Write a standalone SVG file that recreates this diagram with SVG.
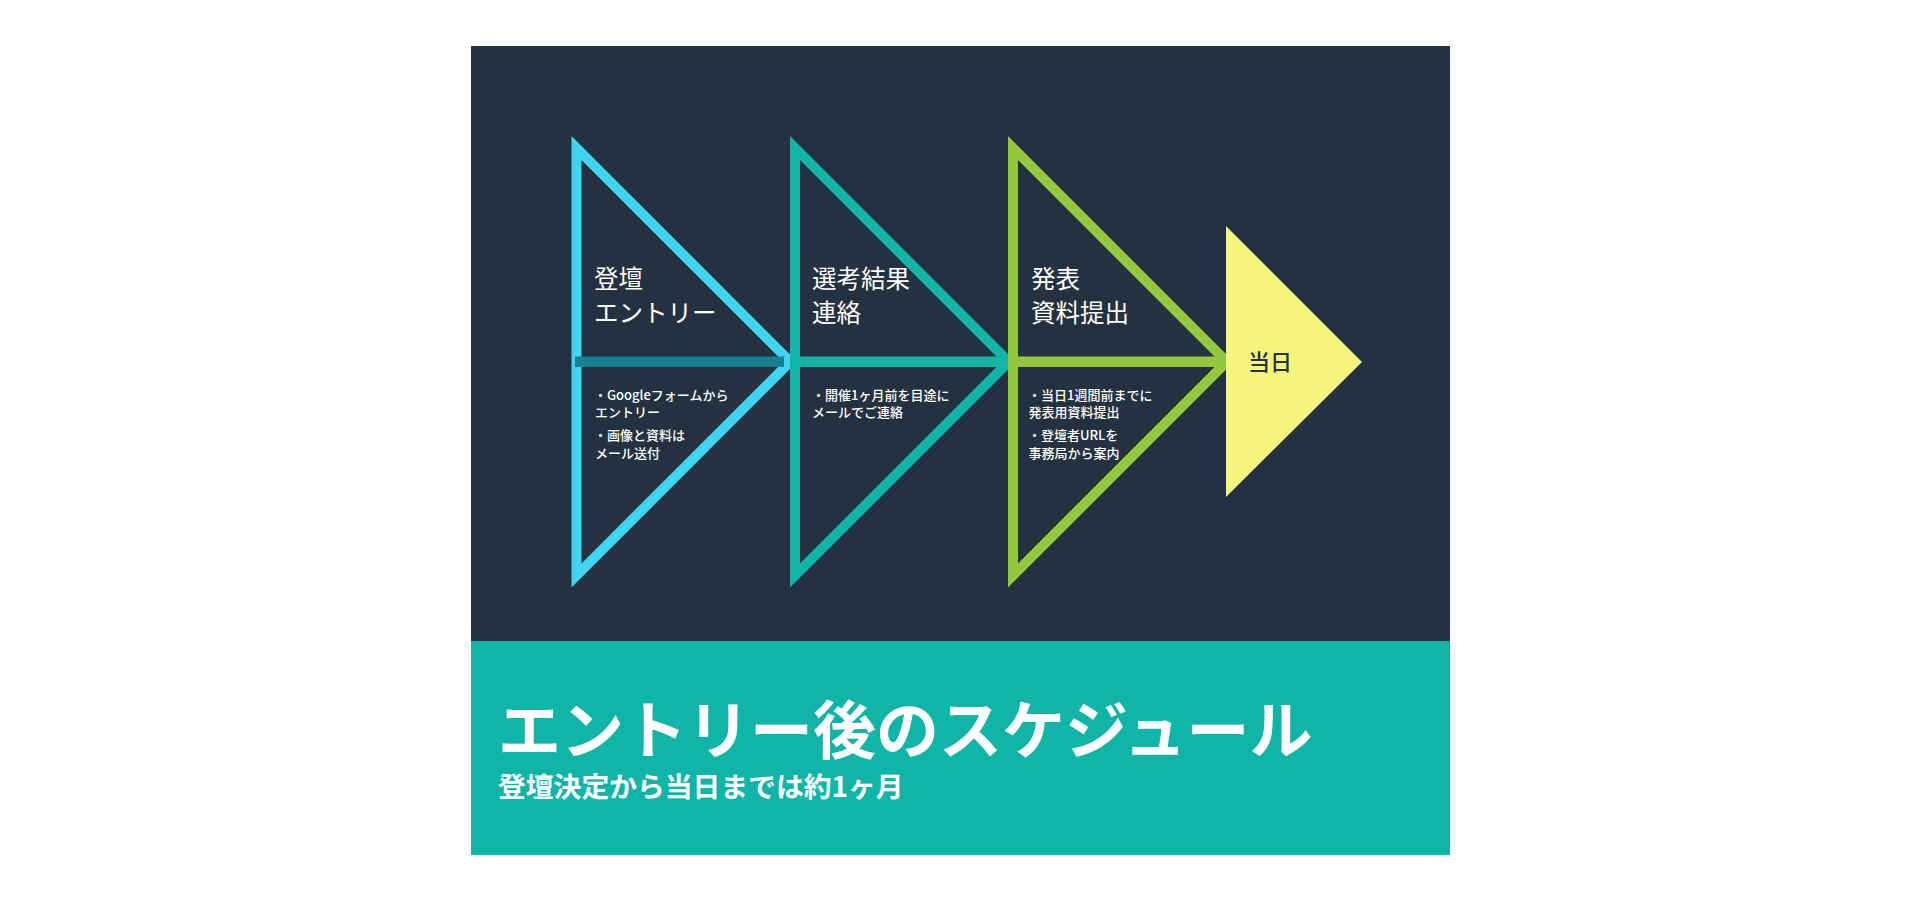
<svg xmlns="http://www.w3.org/2000/svg" width="1920" height="900" viewBox="0 0 1920 900">
<style>
.tri{fill:none;stroke-width:10;stroke-linejoin:miter}
.head{font-family:"Noto Sans CJK JP","Noto Sans",sans-serif;font-size:24.5px;fill:#ffffff;font-weight:400}
.bul{font-family:"Noto Sans CJK JP","Noto Sans",sans-serif;font-size:13px;fill:#ffffff;font-weight:500}
.title{font-family:"Noto Sans CJK JP","Noto Sans",sans-serif;font-size:63px;fill:#ffffff;font-weight:700}
.sub{font-family:"Noto Sans CJK JP","Noto Sans",sans-serif;font-size:27.8px;fill:#ffffff;font-weight:700}
.day{font-family:"Noto Sans CJK JP","Noto Sans",sans-serif;font-size:22px;fill:#243140;font-weight:500}
</style>
<rect width="1920" height="900" fill="#ffffff"/>
<rect id="panel" x="471" y="46" width="979" height="595" fill="#243140"/>
<rect id="footer" x="471" y="641" width="979" height="214" fill="#10b5a7"/>
<g id="step1">
<path class="tri" stroke="#41d4f0" d="M576.5,148 L576.5,575.5 L790.25,361.75 Z"/>
<text class="head" x="594" y="288">登壇</text>
<text class="head" x="594" y="322">エントリー</text>
<text class="bul" x="594" y="400">・Googleフォームから</text>
<text class="bul" x="595" y="417">エントリー</text>
<text class="bul" x="594" y="440">・画像と資料は</text>
<text class="bul" x="595" y="458">メール送付</text>
</g>
<g id="step2">
<path class="tri" stroke="#10b5a7" d="M795,148 L795,575.5 L1008.75,361.75 Z"/>
<text class="head" x="812" y="288">選考結果</text>
<text class="head" x="812" y="322">連絡</text>
<text class="bul" x="812" y="400">・開催1ヶ月前を目途に</text>
<text class="bul" x="812" y="417">メールでご連絡</text>
</g>
<g id="step3">
<path class="tri" stroke="#93c83e" d="M1013,148 L1013,575.5 L1226.75,361.75 Z"/>
<text class="head" x="1031" y="288">発表</text>
<text class="head" x="1031" y="322">資料提出</text>
<text class="bul" x="1028" y="400">・当日1週間前までに</text>
<text class="bul" x="1028.5" y="417">発表用資料提出</text>
<text class="bul" x="1028" y="440">・登壇者URLを</text>
<text class="bul" x="1028.5" y="458">事務局から案内</text>
</g>
<g id="day">
<polygon points="1226,226 1362,362 1226,497" fill="#f6f57b"/>
<text class="day" x="1248" y="370">当日</text>
</g>
<g id="connectors">
<rect x="575" y="356.5" width="209" height="10.5" fill="#187e92"/>
<rect x="798" y="356.5" width="206" height="10.5" fill="#10b5a7"/>
<rect x="1016" y="356.5" width="206" height="10.5" fill="#93c83e"/>
</g>
<g id="caption">
<text class="title" x="498" y="753">エントリー後のスケジュール</text>
<text class="sub" x="498" y="797">登壇決定から当日までは約1ヶ月</text>
</g>
</svg>
